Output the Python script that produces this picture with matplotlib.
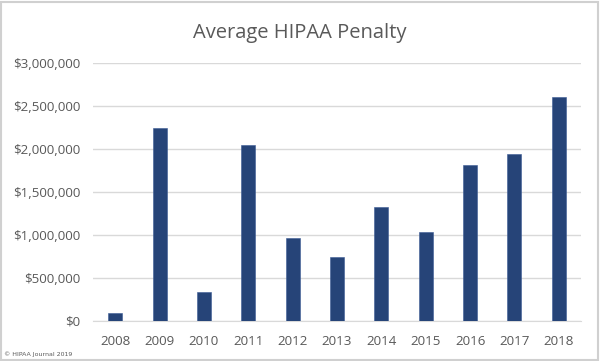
import matplotlib
matplotlib.use("Agg")
import matplotlib.pyplot as plt
from matplotlib.ticker import FuncFormatter
from matplotlib.patches import Rectangle

years = ["2008", "2009", "2010", "2011", "2012", "2013", "2014", "2015", "2016", "2017", "2018"]
penalties = [97000, 2243000, 340000, 2050000, 969000, 748000, 1320000, 1035000, 1810000, 1940000, 2610000]
yticks = [0, 500000, 1000000, 1500000, 2000000, 2500000, 3000000]

text_color = "#595959"
fig = plt.figure(figsize=(6.0, 3.61), dpi=100)
ax = fig.add_axes([93/600, 1 - 321/361, (581-93)/600, (321-63)/361])

x = list(range(len(years)))
ax.bar(x, penalties, width=0.315, color="#264478", edgecolor="#3a5a94", linewidth=0.4, zorder=3)
ax.set_xlim(-0.5, len(years) - 0.5)
ax.set_ylim(0, 3000000)
ax.set_yticks(yticks)
ax.yaxis.set_major_formatter(FuncFormatter(lambda v, p: "${:,.0f}".format(v)))
ax.set_xticks(x)
ax.set_xticklabels(years)
ax.grid(axis="y", color="#d9d9d9", linewidth=1, zorder=0)
for s in ["top", "right", "left"]:
    ax.spines[s].set_visible(False)
ax.spines["bottom"].set_color("#d9d9d9")
ax.tick_params(axis="both", length=0, labelsize=9.6, colors=text_color)
for lab in ax.get_xticklabels() + ax.get_yticklabels():
    lab.set_fontfamily("Open Sans")
ax.tick_params(axis="y", pad=9)
ax.tick_params(axis="x", pad=10)

fig.text(0.5, 1 - 33/361, "Average HIPAA Penalty", ha="center", va="center",
         fontsize=14.5, color=text_color, fontfamily="Open Sans")
fig.text(4/600, 1 - 354/361, "© HIPAA Journal 2019", ha="left", va="center",
         fontsize=4.5, color=text_color, fontfamily="DejaVu Sans")

fig.patches.append(Rectangle((1/600, 1/361), 597/600, 358/361, transform=fig.transFigure,
                             fill=False, edgecolor="#d0d0d0", linewidth=1.5))
fig.savefig("out.png", dpi=100)
